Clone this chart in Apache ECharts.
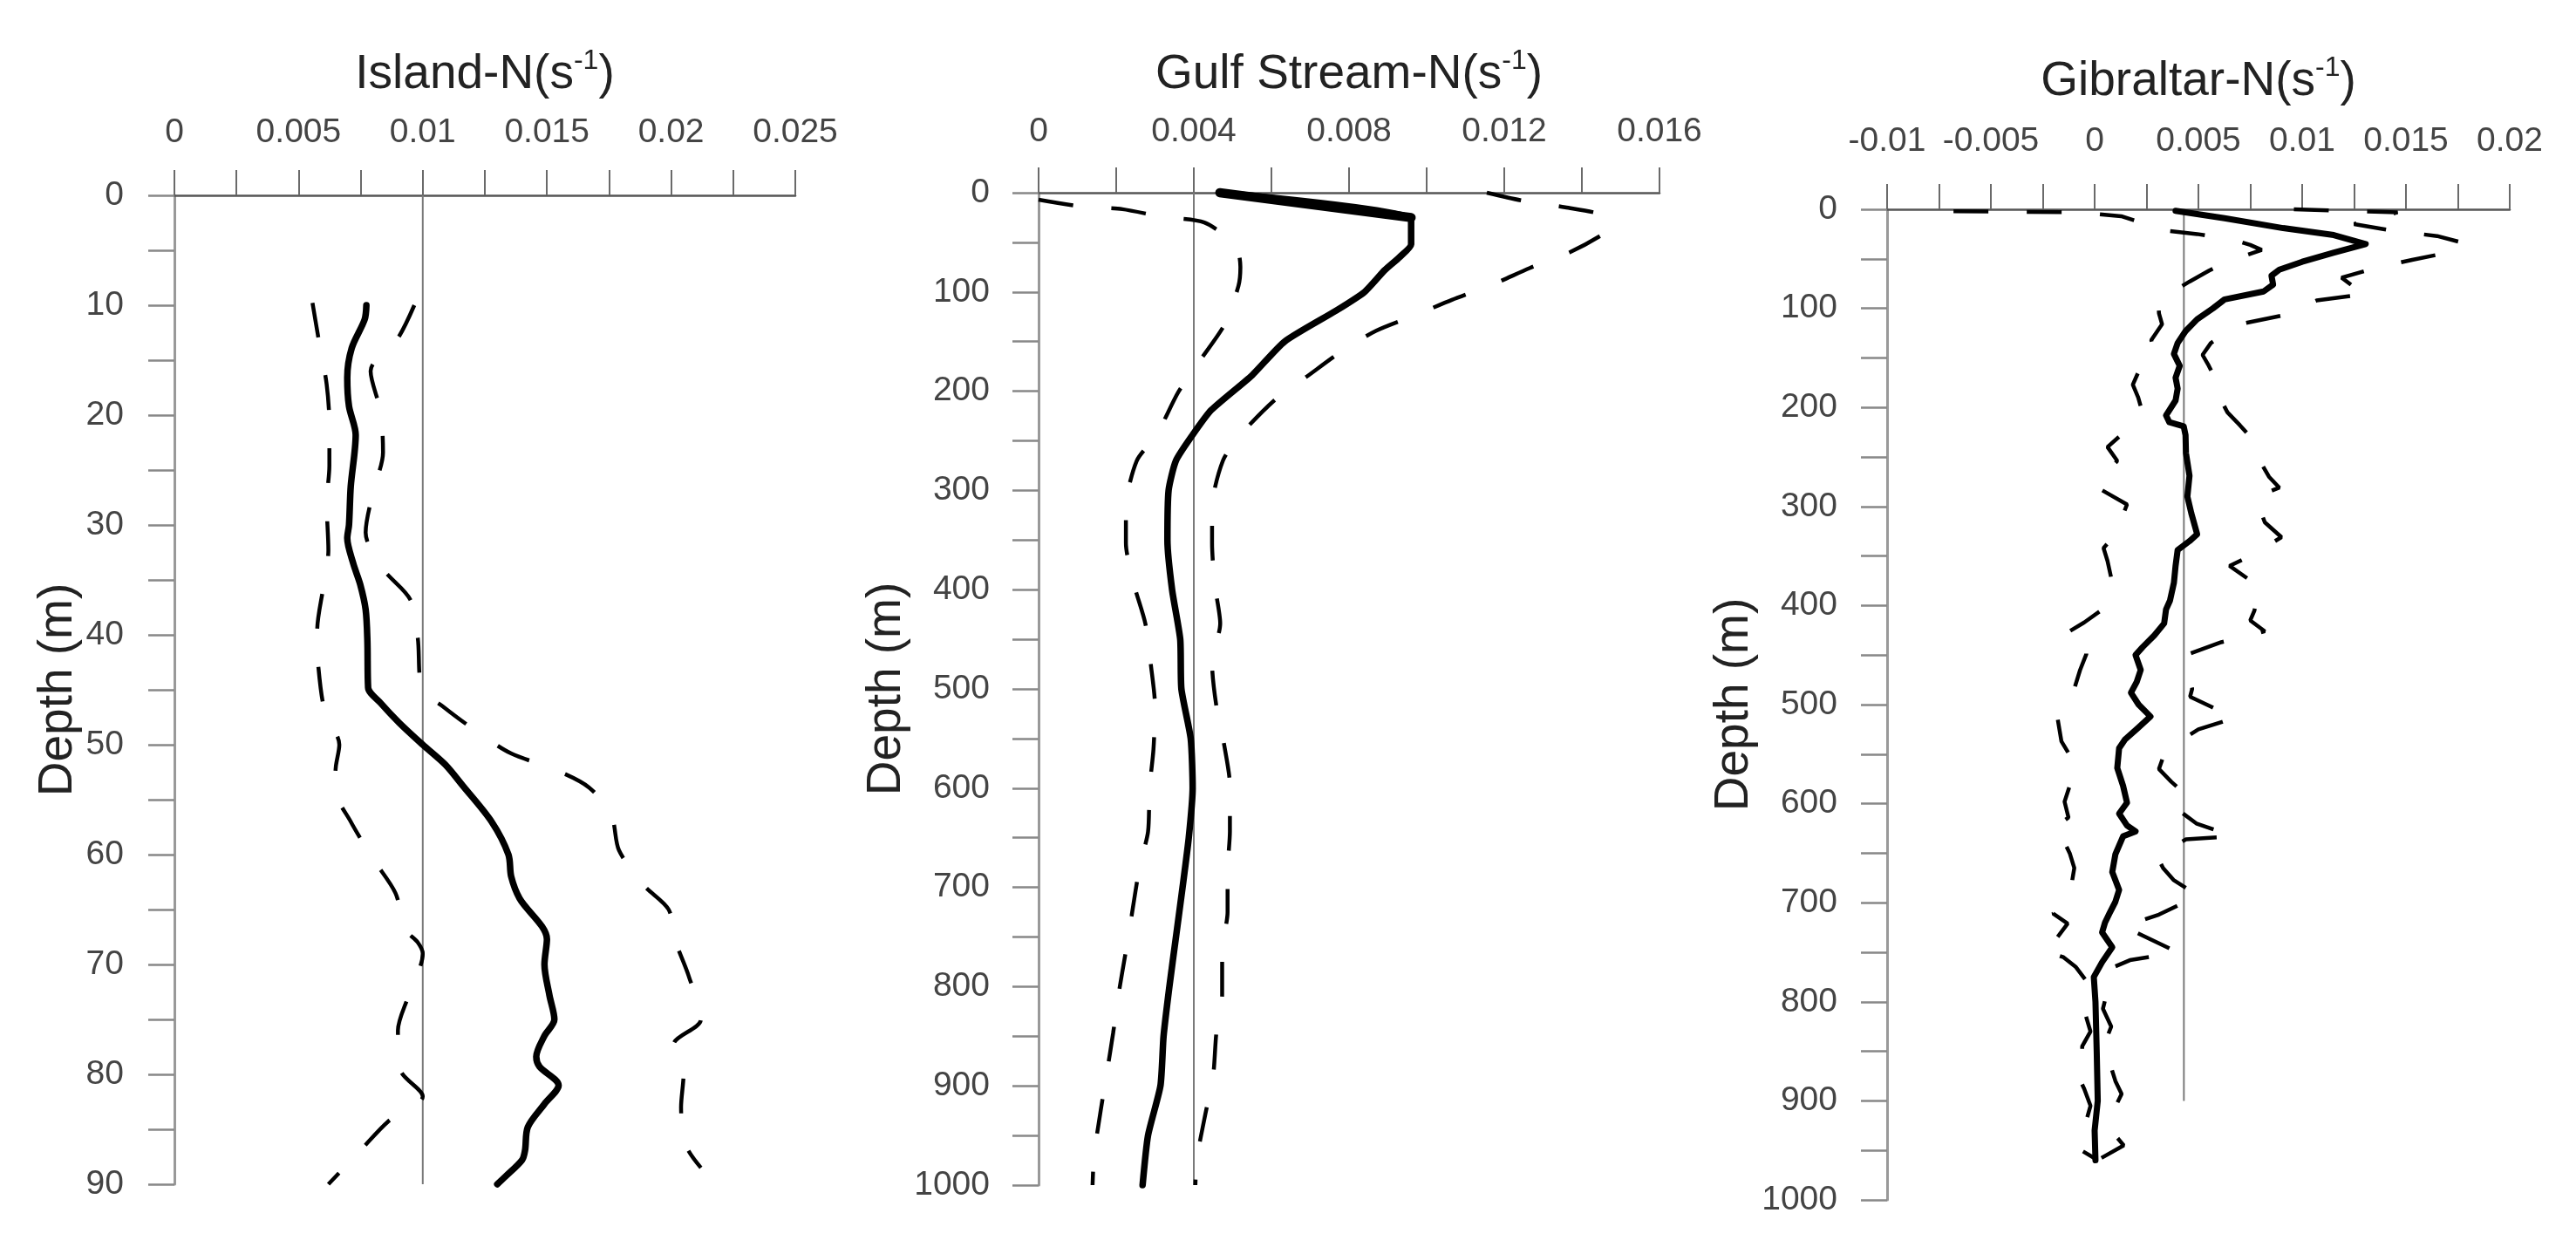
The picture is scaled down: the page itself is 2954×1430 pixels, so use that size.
<!DOCTYPE html>
<html>
<head>
<meta charset="utf-8">
<script src="https://cdn.jsdelivr.net/npm/echarts@6/dist/echarts.min.js"></script>
<style>
html,body{margin:0;padding:0;background:#fff;}
#chart{width:2954px;height:1430px;}
</style>
</head>
<body>
<div id="chart"></div>
<script>
// ---------------- DATA ----------------
// Island (depth in m, N in s^-1)
const islandMeanDepth = [10, 11.3, 13.9, 16.6, 19.2, 21.8, 26.5, 30, 31.2, 33.5, 35.4, 37.7, 40.5, 44.8, 46.2, 48, 50, 51.8, 53.7, 57, 60, 62, 64, 67.7, 70, 72.8, 75, 76.5, 78.4, 79.3, 81, 82.7, 84.8, 86.9, 87.8, 89.3, 90];
const islandMean = [0.00773, 0.00766, 0.00714, 0.00696, 0.00703, 0.00730, 0.00710, 0.00703, 0.00696, 0.00720, 0.00748, 0.00770, 0.00777, 0.00780, 0.00830, 0.00905, 0.01000, 0.01090, 0.01160, 0.01277, 0.01345, 0.01356, 0.01390, 0.01500, 0.01490, 0.01510, 0.01530, 0.01490, 0.01457, 0.01470, 0.01547, 0.01490, 0.01423, 0.01412, 0.01400, 0.01333, 0.01300];
const islandLowDepth = [9.8, 13.4, 17.2, 20.8, 24.6, 28, 32.3, 35.6, 39.6, 43, 47, 50, 52, 54, 57, 60.4, 63.5, 66.8, 68, 69, 73, 76, 79.6, 82, 84.3, 86.9, 90];
const islandLow = [0.00556, 0.00583, 0.00613, 0.00624, 0.00624, 0.00613, 0.0062, 0.0060, 0.00575, 0.0058, 0.00606, 0.00664, 0.0065, 0.00646, 0.0071, 0.0080, 0.0089, 0.0093, 0.0098, 0.0100, 0.0094, 0.0090, 0.0091, 0.0100, 0.0086, 0.0075, 0.0062];
const islandHighDepth = [10, 13, 16, 19.7, 23.4, 27, 30.7, 34, 36.8, 40.3, 44.8, 46.6, 49, 50.8, 52.2, 53.9, 56.5, 59.6, 62.8, 65, 68, 71, 75, 77.3, 80, 83, 86.5, 88.5];
const islandHigh = [0.00966, 0.0090, 0.0079, 0.0083, 0.0084, 0.0080, 0.0077, 0.0084, 0.0095, 0.0098, 0.00995, 0.01086, 0.0123, 0.01356, 0.01525, 0.0167, 0.0176, 0.0179, 0.0189, 0.0199, 0.0202, 0.0207, 0.0212, 0.0201, 0.0205, 0.0204, 0.0206, 0.0212];
const islandRefValue = 0.01;
const islandRefDepth = [0, 90];

// Gulf Stream
const gulfMeanDepth = [0, 25, 38, 52, 65, 78, 100, 119, 150, 184, 219, 244, 270, 300, 350, 400, 450, 500, 550, 600, 650, 700, 750, 800, 850, 900, 950, 1000];
const gulfMean = [0.00467, 0.0096, 0.0096, 0.0096, 0.0093, 0.00892, 0.0084, 0.00766, 0.00634, 0.0055, 0.00445, 0.00397, 0.00354, 0.00335, 0.00332, 0.00344, 0.00365, 0.00368, 0.00392, 0.00397, 0.00387, 0.00371, 0.00354, 0.00337, 0.00322, 0.00314, 0.00282, 0.00268];
const gulfLowDepth = [7, 13.7, 16.6, 24.3, 30, 53, 75, 94, 133, 169, 201, 244, 270, 317, 353, 395, 434, 478, 517, 561, 600, 644, 680, 728, 764, 808, 847, 889, 925, 970, 1000];
const gulfLow = [0.0000, 0.00108, 0.00216, 0.00319, 0.00427, 0.00508, 0.0052, 0.00515, 0.00479, 0.00416, 0.0036, 0.00304, 0.00253, 0.00225, 0.00225, 0.00246, 0.00275, 0.0029, 0.0030, 0.00296, 0.00286, 0.00282, 0.0026, 0.0024, 0.00225, 0.00206, 0.00192, 0.00175, 0.0016, 0.00143, 0.00139];
const gulfHighDepth = [0, 8, 14.7, 23, 32, 40, 60, 76, 92, 108, 123, 139, 159, 185, 208, 244, 270, 317, 353, 395, 434, 475, 517, 556, 597, 644, 683, 725, 764, 808, 847, 889, 928, 973, 1000];
const gulfHigh = [0.01155, 0.01247, 0.01357, 0.01461, 0.0147, 0.01461, 0.01369, 0.01265, 0.01173, 0.01065, 0.00973, 0.0087, 0.00784, 0.00692, 0.00611, 0.0052, 0.00475, 0.00447, 0.00447, 0.00454, 0.00468, 0.00447, 0.00458, 0.00478, 0.00493, 0.00493, 0.00487, 0.00487, 0.00473, 0.00473, 0.00458, 0.0045, 0.0043, 0.00408, 0.00404];
const gulfRefValue = 0.004;
const gulfRefDepth = [0, 1000];

// Gibraltar
const gibMeanDepth = [1.5, 9, 19, 26, 35, 44, 53, 61, 67, 76, 83, 91, 100, 111, 123, 135, 146, 158, 170, 181, 193, 208, 215, 219, 228, 246, 269, 290, 307, 328, 335, 344, 360, 377, 395, 404, 418, 430, 442, 450, 465, 477, 488, 500, 512, 523, 535, 544, 564, 582, 599, 610, 622, 628, 633, 651, 669, 687, 699, 711, 720, 730, 745, 760, 775, 800, 850, 900, 930, 960];
const gibMean = [0.0039, 0.00626, 0.00908, 0.01152, 0.01306, 0.0115, 0.0100, 0.0089, 0.00852, 0.0086, 0.00814, 0.00626, 0.0057, 0.00494, 0.00438, 0.0040, 0.00382, 0.0041, 0.0039, 0.0040, 0.0039, 0.00344, 0.0036, 0.00429, 0.00438, 0.0044, 0.00457, 0.00447, 0.00466, 0.00494, 0.00457, 0.0040, 0.0039, 0.00382, 0.00363, 0.00344, 0.00335, 0.00288, 0.00231, 0.00197, 0.00222, 0.00203, 0.00175, 0.00212, 0.00269, 0.00212, 0.00147, 0.00118, 0.00109, 0.00137, 0.00156, 0.00118, 0.00156, 0.00197, 0.00137, 0.0010, 0.00085, 0.00118, 0.0010, 0.00071, 0.0005, 0.00036, 0.00085, 0.00036, -0.00004, 0.00004, 0.0001, 0.00015, 0.0, 0.00004];
const gibLowDepth = [2, 3, 7, 13, 20, 25, 31, 36, 41, 53, 62, 73, 92, 105, 116, 132, 145, 160, 177, 190, 199, 204, 226, 240, 254, 268, 280, 298, 328, 342, 355, 379, 392, 405, 417, 429, 442, 449, 465, 484, 498, 512, 537, 551, 565, 582, 598, 614, 625, 633, 650, 665, 680, 696, 711, 721, 735, 742, 750, 755, 765, 779, 795, 813, 830, 845, 857, 870, 888, 905, 920, 935, 948, 958];
const gibLow = [-0.0068, -0.0009, 0.00128, 0.0022, 0.00278, 0.00494, 0.00673, 0.0075, 0.00805, 0.00635, 0.0055, 0.00457, 0.00306, 0.0031, 0.00325, 0.00273, 0.00288, 0.0022, 0.00184, 0.0021, 0.00222, 0.00197, 0.00137, 0.00062, 0.00109, 0.0005, 0.00006, 0.00156, 0.0010, 0.00043, 0.00062, 0.00087, 0.0006, 0.0003, -0.0005, -0.00145, -0.0004, -0.0004, -0.0007, -0.00098, -0.0013, -0.0018, -0.0016, -0.0012, -0.00088, -0.0012, -0.00145, -0.00126, -0.002, -0.0016, -0.0012, -0.00098, -0.0011, -0.00145, -0.002, -0.0013, -0.0018, -0.0025, -0.0022, -0.0015, -0.0009, -0.0004, -0.0003, -0.00044, -0.0002, -0.0006, -0.0006, -0.0009, -0.0005, -0.0002, -0.0004, -0.0006, -0.0008, 0.0000];
const gibHighDepth = [0, 3, 15, 22, 27, 33, 38, 43, 51, 60, 69, 77, 85, 92, 107, 116, 135, 147, 158, 179, 193, 205, 218, 232, 246, 259, 270, 281, 290, 305, 316, 331, 340, 350, 360, 382, 394, 405, 415, 426, 432, 437, 450, 467, 484, 492, 502, 508, 513, 525, 538, 553, 565, 578, 591, 598, 609, 620, 633, 636, 653, 665, 677, 693, 712, 724, 737, 750, 758, 766, 790, 807, 825, 841, 860, 880, 893, 906, 920, 935, 945, 958];
const gibHigh = [0.0096, 0.0146, 0.0125, 0.0145, 0.0165, 0.0176, 0.0178, 0.0172, 0.0153, 0.0134, 0.0119, 0.0124, 0.0132, 0.0107, 0.0091, 0.0070, 0.0056, 0.0052, 0.0055, 0.0060, 0.0061, 0.0064, 0.0070, 0.0076, 0.0079, 0.0081, 0.0084, 0.0089, 0.0078, 0.0080, 0.0082, 0.0090, 0.0083, 0.0075, 0.0065, 0.0080, 0.0078, 0.0077, 0.0075, 0.0082, 0.0072, 0.0061, 0.0044, 0.0045, 0.0047, 0.0046, 0.0056, 0.0062, 0.0068, 0.0050, 0.0040, 0.0033, 0.0031, 0.0037, 0.0044, 0.0047, 0.0042, 0.0049, 0.0067, 0.0044, 0.0030, 0.0033, 0.0038, 0.0050, 0.0031, 0.0014, 0.0027, 0.0040, 0.0017, 0.0008, 0.0006, 0.0004, 0.0008, 0.0005, 0.0007, 0.0010, 0.0013, 0.0010, 0.0008, 0.0010, 0.0014, 0.0003];
const gibRefValue = 0.0043;
const gibRefDepth = [0, 900];

// Axis ranges: [min, max, label interval]
const islandXRange = [0, 0.025, 0.005];
const gulfXRange = [0, 0.016, 0.004];
const gibXRange = [-0.01, 0.02, 0.005];
const islandYRange = [0, 90, 10];
const gulfYRange = [0, 1000, 100];
const gibYRange = [0, 1000, 100];
const titleNames = ['Island-N(s', 'Gulf Stream-N(s', 'Gibraltar-N(s'];
const yAxisName = 'Depth (m)';

// ---------------- CHART ----------------
const FONT = '"Liberation Sans", Arial, Helvetica, sans-serif';
function pairs(vals, depths) { return vals.map((v, i) => [v, depths[i]]); }

const layout = [
  { grid: { left: 200, top: 224, width: 712, height: 1134 }, xMargin: 52, yMargin: 58, nameGap: 103, titleTop: 49 },
  { grid: { left: 1191, top: 221, width: 712, height: 1138 }, xMargin: 50, yMargin: 56, nameGap: 142, titleTop: 49 },
  { grid: { left: 2164, top: 240, width: 714, height: 1136 }, xMargin: 58, yMargin: 57, nameGap: 130, titleTop: 57 }
];
const xRanges = [islandXRange, gulfXRange, gibXRange];
const yRanges = [islandYRange, gulfYRange, gibYRange];

const tickColor = '#6a6a6a';
const labelColor = '#444';

const grids = layout.map(l => Object.assign({ containLabel: false }, l.grid));

const titles = layout.map((l, i) => ({
  text: '{a|' + titleNames[i] + '}{b|-1}{a|)}',
  left: l.grid.left + l.grid.width / 2 - 5,
  top: l.titleTop,
  textAlign: 'center',
  textStyle: {
    fontWeight: 'normal',
    rich: {
      a: { fontSize: 55, fontFamily: FONT, fontWeight: 'normal', color: '#222', lineHeight: 64 },
      b: { fontSize: 32, fontFamily: FONT, fontWeight: 'normal', color: '#222', lineHeight: 44, verticalAlign: 'top' }
    }
  }
}));

function fmt(v) { return String(parseFloat(Number(v).toFixed(5))); }

const xAxes = layout.map((l, i) => ({
  gridIndex: i, type: 'value', position: 'top',
  min: xRanges[i][0], max: xRanges[i][1], interval: xRanges[i][2],
  axisLine: { show: true, onZero: false, lineStyle: { color: '#555', width: 2.5 } },
  axisTick: { show: true, length: 29, lineStyle: { color: tickColor, width: 2 } },
  minorTick: { show: true, splitNumber: 2, length: 29, lineStyle: { color: tickColor, width: 2 } },
  splitLine: { show: false }, minorSplitLine: { show: false },
  axisLabel: { margin: l.xMargin, fontSize: 39, color: labelColor, fontFamily: FONT, formatter: fmt }
}));

const yAxes = layout.map((l, i) => ({
  gridIndex: i, type: 'value', inverse: true,
  min: yRanges[i][0], max: yRanges[i][1], interval: yRanges[i][2],
  axisLine: { show: true, onZero: false, lineStyle: { color: '#999', width: 3 } },
  axisTick: { show: true, length: 30, lineStyle: { color: '#888', width: 2.5 } },
  minorTick: { show: true, splitNumber: 2, length: 30, lineStyle: { color: '#888', width: 2.5 } },
  splitLine: { show: false }, minorSplitLine: { show: false },
  axisLabel: { margin: l.yMargin, fontSize: 39, color: labelColor, fontFamily: FONT, formatter: v => String(v) },
  name: yAxisName, nameLocation: 'middle', nameGap: l.nameGap,
  nameTextStyle: { fontSize: 55, color: '#222', fontFamily: FONT, fontWeight: 'normal' }
}));

function solid(i, data, smooth, width) {
  return { type: 'line', xAxisIndex: i, yAxisIndex: i, data: data, symbol: 'none', showSymbol: false,
    smooth: smooth, clip: false, z: 4, silent: true,
    lineStyle: { color: '#000', width: width || 7.5, cap: 'round', join: 'round' } };
}
function dashed(i, data, smooth) {
  return { type: 'line', xAxisIndex: i, yAxisIndex: i, data: data, symbol: 'none', showSymbol: false,
    smooth: smooth, clip: false, z: 3, silent: true,
    lineStyle: { color: '#000', width: 4.5, type: [40, 44], cap: 'butt' } };
}
function ref(i, value, depths) {
  return { type: 'line', xAxisIndex: i, yAxisIndex: i, data: depths.map(d => [value, d]), symbol: 'none',
    showSymbol: false, clip: false, z: 2, silent: true, lineStyle: { color: '#7a7a7a', width: 2 } };
}

const series = [
  ref(0, islandRefValue, islandRefDepth),
  dashed(0, pairs(islandLow, islandLowDepth), 0.3),
  dashed(0, pairs(islandHigh, islandHighDepth), 0.3),
  solid(0, pairs(islandMean, islandMeanDepth), 0.3),

  ref(1, gulfRefValue, gulfRefDepth),
  dashed(1, pairs(gulfLow, gulfLowDepth), 0.25),
  dashed(1, pairs(gulfHigh, gulfHighDepth), 0.25),
  solid(1, pairs(gulfMean, gulfMeanDepth), 0.2),
  solid(1, pairs(gulfMean.slice(0, 2), gulfMeanDepth.slice(0, 2)), false, 10.5),

  ref(2, gibRefValue, gibRefDepth),
  dashed(2, pairs(gibLow, gibLowDepth), false),
  dashed(2, pairs(gibHigh, gibHighDepth), false),
  solid(2, pairs(gibMean, gibMeanDepth), false, 7)
];

const chart = echarts.init(document.getElementById('chart'), null, { renderer: 'canvas' });
chart.setOption({
  backgroundColor: '#fff',
  animation: false,
  title: titles,
  grid: grids,
  xAxis: xAxes,
  yAxis: yAxes,
  series: series
});
</script>
</body>
</html>
